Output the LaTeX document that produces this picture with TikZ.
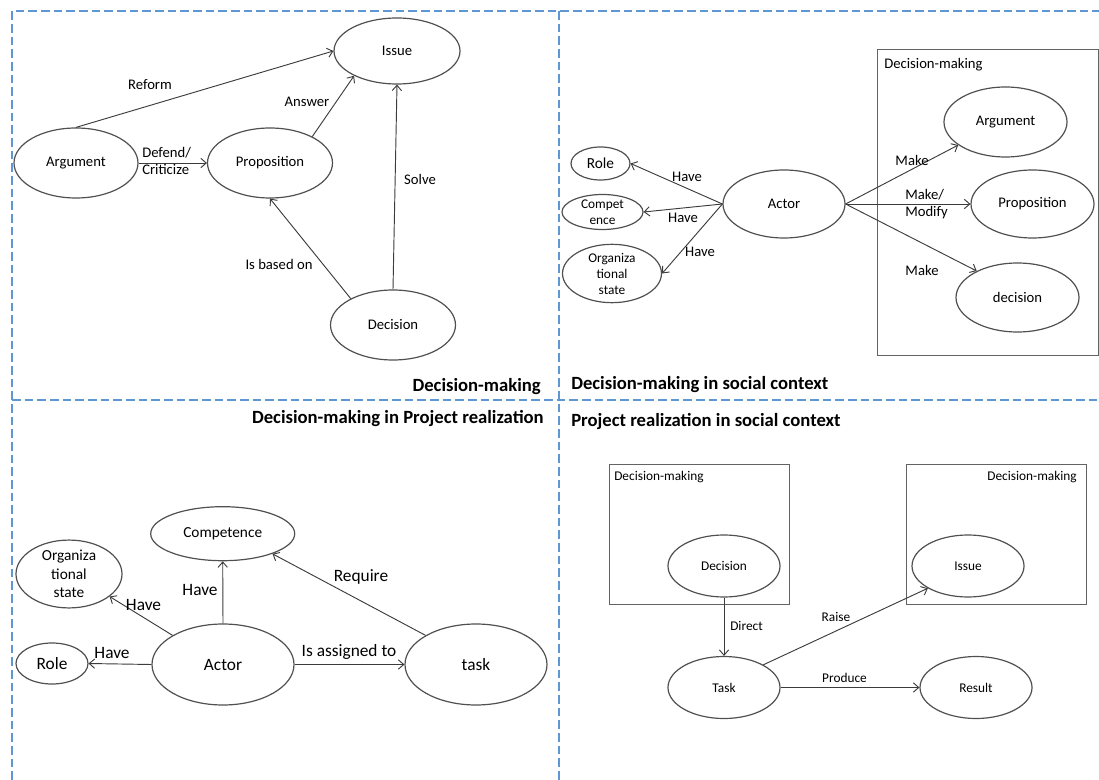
\documentclass[tikz,border=0pt]{standalone}
\usepackage{fontspec}
\setmainfont{Carlito}
\usetikzlibrary{shapes.geometric,arrows.meta}
\definecolor{dashblue}{RGB}{96,150,210}
\definecolor{ink}{RGB}{60,60,60}
\begin{document}
\begin{tikzpicture}[x=0.75pt,y=-0.75pt,
  es/.style 2 args={minimum width=#1*0.75pt,minimum height=#2*0.75pt},
  ell/.style={ellipse,draw=ink!90,line width=0.9pt,inner sep=0pt,align=center},
  boxst/.style={draw=ink!80,line width=0.7pt,inner sep=0pt},
  arr/.style={draw=ink,line width=0.7pt,-{Straight Barb[length=4pt,width=7pt]}},
  lbl/.style={inner sep=0pt,align=center},
  ttl/.style={inner sep=0pt,font=\fontsize{14}{16}\selectfont\bfseries},
  frame/.style={draw=dashblue,line width=1.9pt,dash pattern=on 6.5pt off 3pt},
  fA/.style={font=\fontsize{11}{13}\selectfont},
  fB/.style={font=\fontsize{13}{15}\selectfont},
  fC/.style={font=\fontsize{10}{12}\selectfont},
  fD/.style={font=\fontsize{10}{12}\selectfont},
  fE/.style={font=\fontsize{11.5}{14}\selectfont}
]
\useasboundingbox (0,0) rectangle (1099,780);

% frame lines
\coordinate (ftl) at (12,11);
\coordinate (ftr) at (1099,11);
\coordinate (fbl) at (12,780);
\coordinate (fmt) at (559,11);
\coordinate (fmb) at (559,780);
\coordinate (fml) at (12,400);
\coordinate (fmr) at (1099,400);
\draw[frame] (fbl) -- (ftl) -- (ftr);
\draw[frame] (fmt) -- (fmb);
\draw[frame] (fml) -- (fmr);

% ---------- top left ----------
\node[ell,fA,es={126}{66}] (tlIssue) at (397,51) {Issue};
\node[ell,fA,es={124}{70}] (tlArg) at (76,163) {Argument};
\node[ell,fA,es={125}{70}] (tlProp) at (270,163) {Proposition};
\node[ell,fA,es={125}{70}] (tlDec) at (393,325) {Decision};
\draw[arr] (tlArg.north) -- (tlIssue.west);
\draw[arr] (tlArg.east) -- (tlProp.west);
\draw[arr] (tlProp.32) -- (tlIssue.210);
\draw[arr] (tlDec.148) -- (tlProp.south);
\draw[arr] (tlDec.north) -- (tlIssue.south);
\node[lbl,fA] (lReform) at (150,85) {Reform};
\node[lbl,fA] (lAnswer) at (307,102) {Answer};
\node[lbl,fA,align=left,anchor=west] (lDefend) at (142,161) {Defend/\\Criticize};
\node[lbl,fA] (lSolve) at (420,179) {Solve};
\node[lbl,fA] (lBased) at (279,264) {Is based on};
\node[ttl,anchor=east] (tTL) at (541,387) {Decision-making};

% ---------- top right ----------
\node[boxst,es={221}{306}] (trBox) at (987.5,202) {};
\node[lbl,fA,anchor=west] (trBoxT) at (884,65) {Decision-making};
\node[ell,fA,es={123}{70}] (trArg) at (1005.5,122) {Argument};
\node[ell,fA,es={123}{68}] (trProp) at (1032.5,204) {Proposition};
\node[ell,fA,es={123}{69}] (trDec) at (1017.5,297.5) {decision};
\node[ell,fA,es={122}{68}] (trActor) at (784,204) {Actor};
\node[ell,fE,es={59}{33}] (trRole) at (600.5,163.5) {Role};
\node[ell,fC,es={81}{34}] (trComp) at (602.5,212) {Compet\\ence};
\node[ell,fC,es={99}{47}] (trOrg) at (612,273.5) {Organiza\\tional\\state};
\draw[arr] (trActor.west) -- (trRole.east);
\draw[arr] (trActor.west) -- (trComp.east);
\draw[arr] (trActor.west) -- (trOrg.east);
\draw[arr] (trActor.east) -- (trArg.206);
\draw[arr] (trActor.east) -- (trProp.west);
\draw[arr] (trActor.east) -- (trDec.147);
\node[lbl,fA] (lHave1) at (687,177) {Have};
\node[lbl,fA] (lHave2) at (683,218) {Have};
\node[lbl,fA] (lHave3) at (700,252) {Have};
\node[lbl,fA] (lMake1) at (912,160) {Make};
\node[lbl,fA,align=left,anchor=west] (lMake2) at (905,204) {Make/\\Modify};
\node[lbl,fA] (lMake3) at (922,270) {Make};
\node[ttl,anchor=west] (tTR) at (571,385) {Decision-making in social context};

% ---------- bottom left ----------
\node[ttl,anchor=east] (tBL) at (544,419) {Decision-making in Project realization};
\node[ell,fE,es={144}{54}] (blComp) at (222.7,533.7) {Competence};
\node[ell,fE,es={106}{55}] (blOrg) at (69,574) {Organiza\\tional\\state};
\node[ell,fB,es={72}{41}] (blRole) at (52,663.5) {Role};
\node[ell,fB,es={142}{81}] (blActor) at (223,664.5) {Actor};
\node[ell,fB,es={142}{81}] (blTask) at (476,664.5) {task};
\draw[arr] (blActor.150) -- (blOrg.331);
\draw[arr] (blActor.north) -- (blComp.south);
\draw[arr] (blActor.west) -- (blRole.east);
\draw[arr] (blActor.east) -- (blTask.west);
\draw[arr] (blTask.150) -- (blComp.338);
\node[lbl,fB] (lHave4) at (143.5,605) {Have};
\node[lbl,fB] (lHave5) at (200,590) {Have};
\node[lbl,fB] (lHave6) at (112,653) {Have};
\node[lbl,fB] (lAssigned) at (349,652) {Is assigned to};
\node[lbl,fB] (lRequire) at (361,577) {Require};

% ---------- bottom right ----------
\node[ttl,anchor=west] (tBR) at (571,422) {Project realization in social context};
\node[boxst,es={180}{140}] (brBox1) at (699,534) {};
\node[boxst,es={180}{140}] (brBox2) at (996,534) {};
\node[lbl,fD,anchor=west] (brBox1T) at (614,477) {Decision-making};
\node[lbl,fD,anchor=east] (brBox2T) at (1077,477) {Decision-making};
\node[ell,fD,es={112}{62}] (brDec) at (724,566) {Decision};
\node[ell,fD,es={112}{62}] (brIssue) at (968,566) {Issue};
\node[ell,fD,es={112}{62}] (brTask) at (724,687.5) {Task};
\node[ell,fD,es={112}{62}] (brResult) at (976,687.5) {Result};
\draw[arr] (brDec.south) -- (brTask.north);
\draw[arr] (brTask.30) -- (brIssue.209);
\draw[arr] (brTask.east) -- (brResult.west);
\node[lbl,fD] (lDirect) at (746.5,626) {Direct};
\node[lbl,fD] (lRaise) at (836,617) {Raise};
\node[lbl,fD] (lProduce) at (844.5,678) {Produce};
\end{tikzpicture}
\end{document}
